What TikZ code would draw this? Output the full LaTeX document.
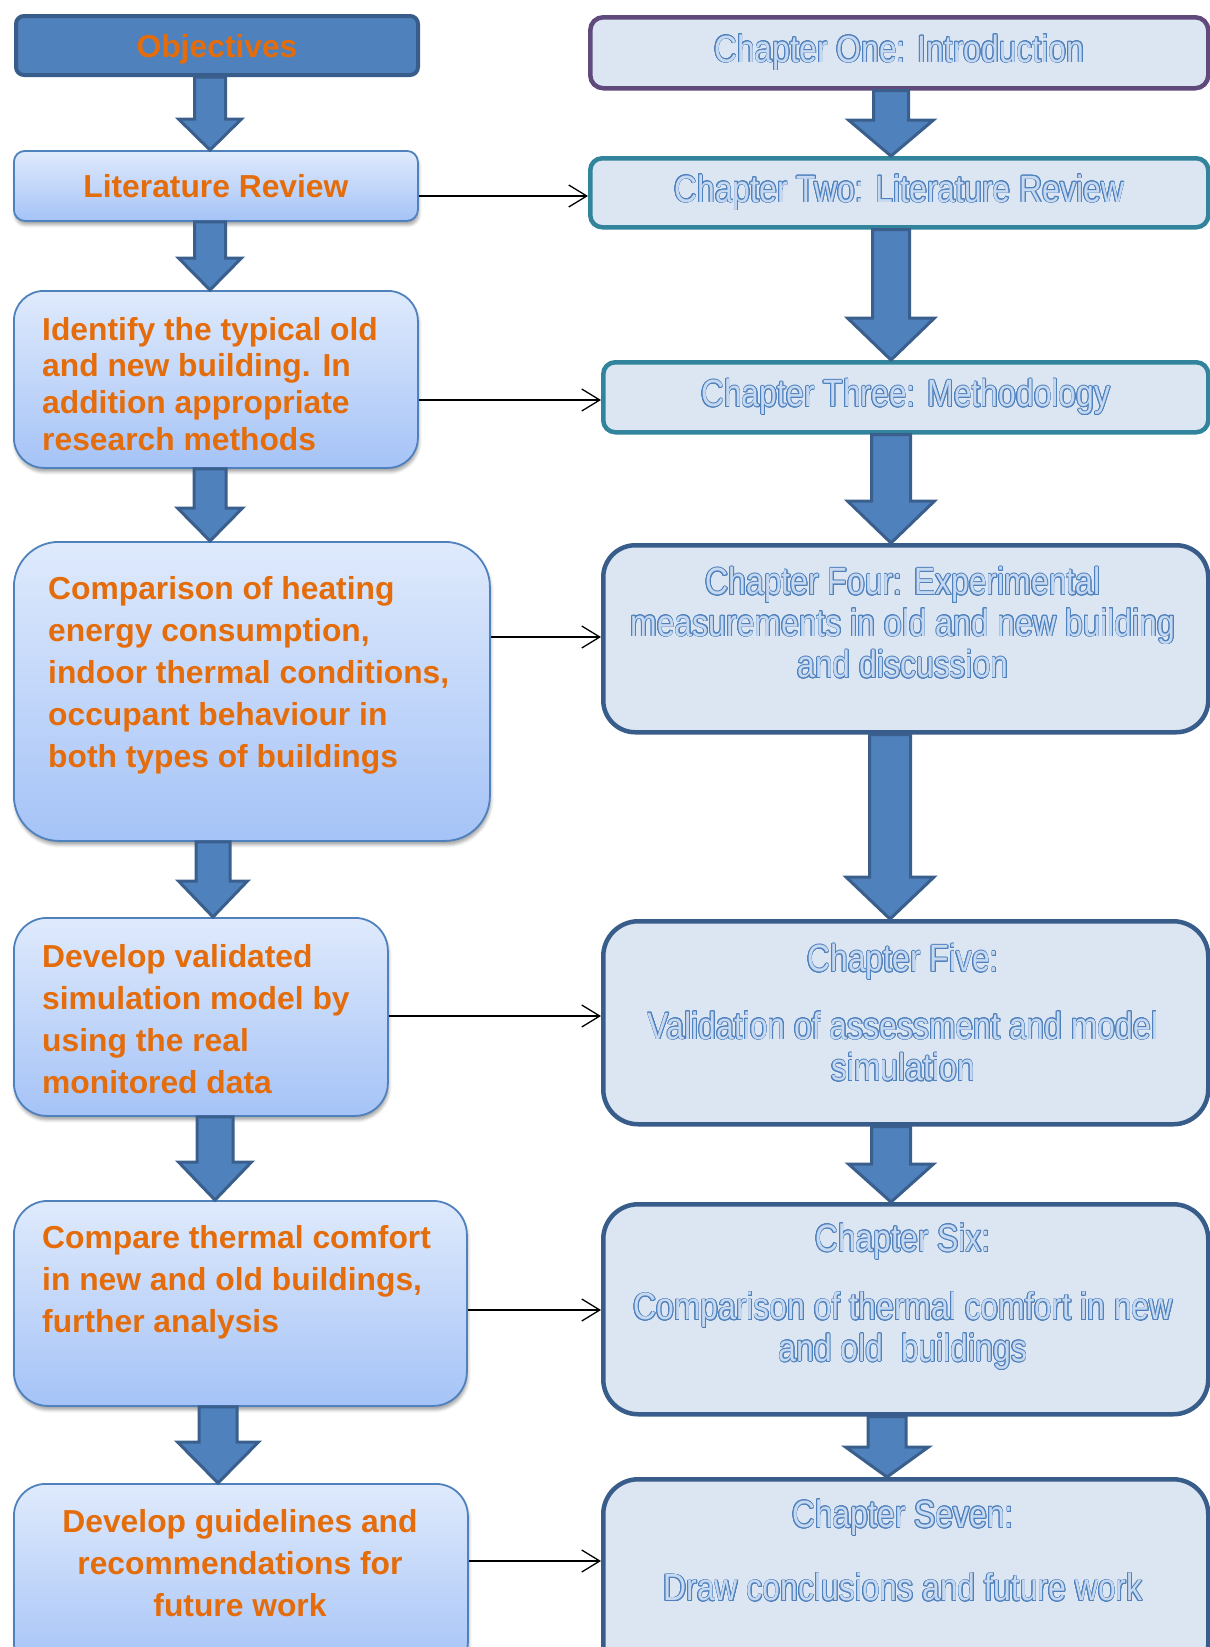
\documentclass[tikz,border=0pt]{standalone}
\usepackage{fontspec}
\setmainfont{Liberation Sans}
\newfontfamily\chapfont[FakeStretch=0.84]{Liberation Sans}
\usepackage[copies]{contour}
\contourlength{0.75pt}
\usetikzlibrary{arrows.meta,shadows.blur}

\definecolor{objfill}{HTML}{4F81BD}
\definecolor{objedge}{HTML}{385D8A}
\definecolor{lboxedge}{HTML}{4F81BD}
\definecolor{lboxtop}{HTML}{DFEAFC}
\definecolor{lboxbot}{HTML}{A5C3F7}
\definecolor{lorange}{HTML}{E46C0A}
\definecolor{rboxfill}{HTML}{DCE6F2}
\definecolor{edgepurple}{HTML}{5F4A7B}
\definecolor{edgeteal}{HTML}{31849B}
\definecolor{edgeblue}{HTML}{385D8A}
\definecolor{rtxtfill}{HTML}{C6D9F1}
\definecolor{rtxtedge}{HTML}{4F81BD}
\definecolor{blkfill}{HTML}{4F81BD}
\definecolor{blkedge}{HTML}{3A5F8C}

\newcommand{\ctr}[1]{\contour{rtxtedge}{#1}}
% from, to, x, half shaft, half head, head length
\newcommand{\blockdown}[6]{%
  \path (#1.south -| #3,0) coordinate (#1-o) (#2.north -| #3,0) coordinate (#2-i);
  \draw[blkarr] ([xshift=-#4pt]#1-o) -- ([xshift=-#4pt,yshift=#6pt]#2-i)
    -- ([xshift=-#5pt,yshift=#6pt]#2-i) -- (#2-i) -- ([xshift=#5pt,yshift=#6pt]#2-i)
    -- ([xshift=#4pt,yshift=#6pt]#2-i) -- ([xshift=#4pt]#1-o) -- cycle;}

\begin{document}
\begin{tikzpicture}[x=1pt,y=-1pt,>={Straight Barb[length=18pt,width=22pt]},
  lbox/.style={draw=lboxedge,line width=1.8pt,top color=lboxtop,bottom color=lboxbot,
    blur shadow={shadow xshift=1pt,shadow yshift=-4pt,shadow blur radius=3pt,shadow opacity=35},
    anchor=north west,inner sep=0pt},
  rbox/.style={draw=#1,line width=4.5pt,fill=rboxfill,anchor=north west,inner sep=0pt},
  ltxt/.style={text=lorange,font=\fontsize{31.8}{42}\selectfont\bfseries,align=left,inner sep=0pt},
  rtxt/.style={text=rtxtfill,font=\chapfont\fontsize{38}{41.5}\selectfont,align=center,inner sep=0pt},
  blkarr/.style={fill=blkfill,draw=blkedge,line width=3pt,line join=miter},
  linkarr/.style={->,line width=1.3pt}]
\useasboundingbox (0,0) rectangle (1210,1647);

\node (obj) [anchor=north west,draw=objedge,fill=objfill,line width=4pt,rounded corners=8pt,
  minimum width=402pt,minimum height=59pt,ltxt,text depth=0pt] at (14,14) {Objectives};
\node (lit) [lbox,ltxt,minimum width=404pt,minimum height=70pt,rounded corners=11pt] at (13,150) {Literature Review};
\node (idf) [lbox,minimum width=404pt,minimum height=177pt,rounded corners=30pt] at (13,290) {};
\node (cmp) [lbox,minimum width=476pt,minimum height=299pt,rounded corners=45pt] at (13,541) {};
\node (dev) [lbox,minimum width=374pt,minimum height=198pt,rounded corners=33pt] at (13,917) {};
\node (cpt) [lbox,minimum width=453pt,minimum height=205pt,rounded corners=34pt] at (13,1200) {};
\node (gdl) [lbox,minimum width=454pt,minimum height=190pt,rounded corners=32pt] at (13,1483) {};

\node (idf-t) [ltxt,anchor=west,font=\fontsize{31.8}{36.8}\selectfont\bfseries] at (42,384)
  {Identify the typical old\\and new building. In\\addition appropriate\\research methods};
\node (cmp-t) [ltxt,anchor=west] at (48,675)
  {Comparison of heating\\energy consumption,\\indoor thermal conditions,\\occupant behaviour in\\both types of buildings};
\node (dev-t) [ltxt,anchor=west] at (42,1019)
  {Develop validated\\simulation model by\\using the real\\monitored data};
\node (cpt-t) [ltxt,anchor=west] at (42,1282)
  {Compare thermal comfort\\in new and old buildings,\\further analysis};
\node (gdl-t) [ltxt,align=center] at (240,1563)
  {Develop guidelines and\\recommendations for\\future work};

\node (ch1) [rbox=edgepurple,rtxt,minimum width=618pt,minimum height=71pt,rounded corners=13pt] at (588,15)
  {\ctr{Chapter One: Introduction}};
\node (ch2) [rbox=edgeteal,rtxt,minimum width=618pt,minimum height=69pt,rounded corners=12pt] at (588,156)
  {\ctr{Chapter Two: Literature Review}};
\node (ch3) [rbox=edgeteal,rtxt,minimum width=605pt,minimum height=70pt,rounded corners=12pt] at (601,360)
  {\ctr{Chapter Three: Methodology}};
\node (ch4) [rbox=edgeblue,minimum width=605pt,minimum height=187pt,rounded corners=32pt] at (601,543) {};
\node (ch5) [rbox=edgeblue,minimum width=605pt,minimum height=203pt,rounded corners=35pt] at (601,919) {};
\node (ch6) [rbox=edgeblue,minimum width=605pt,minimum height=210pt,rounded corners=35pt] at (601,1202) {};
\node (ch7) [rbox=edgeblue,minimum width=605pt,minimum height=200pt,rounded corners=35pt] at (601,1477) {};

\node (ch4-t) [rtxt] at (903,623)
  {\ctr{Chapter Four: Experimental}\\\ctr{measurements in old and new building}\\\ctr{and discussion}};
\node (ch5-t) [rtxt] at (903,1013)
  {\ctr{Chapter Five:}\\[26pt]\ctr{Validation of assessment and model}\\\ctr{simulation}};
\node (ch6-t) [rtxt] at (903,1297)
  {\ctr{Chapter Six:}\\[27pt]\ctr{Comparison of thermal comfort in new}\\\ctr{and old\ \ buildings}};
\node (ch7-t) [rtxt] at (903,1551)
  {\ctr{Chapter Seven:}\\[32pt]\ctr{Draw conclusions and future work}};

\blockdown{obj}{lit}{210}{15.5}{31.5}{31}
\blockdown{lit}{idf}{210}{15.5}{31.5}{32}
\blockdown{idf}{cmp}{210}{16}{32.5}{33}
\blockdown{cmp}{dev}{213}{17}{34.5}{36}
\blockdown{dev}{cpt}{215}{18}{36.5}{38}
\blockdown{cpt}{gdl}{218}{19}{40.5}{41}
\blockdown{ch1}{ch2}{891}{17.5}{42.5}{36}
\blockdown{ch2}{ch3}{891}{18.5}{43.5}{42}
\blockdown{ch3}{ch4}{891}{19.5}{43.5}{42}
\blockdown{ch4}{ch5}{890}{20.5}{44}{42}
\blockdown{ch5}{ch6}{891}{19.5}{42.5}{38}
\blockdown{ch6}{ch7}{887}{19}{41.5}{30}

\draw[linkarr] (lit.east |- 0,196) -- (ch2.west |- 0,196);
\draw[linkarr] (idf.east |- 0,400) -- (ch3.west |- 0,400);
\draw[linkarr] (cmp.east |- 0,637) -- (ch4.west |- 0,637);
\draw[linkarr] (dev.east |- 0,1016) -- (ch5.west |- 0,1016);
\draw[linkarr] (cpt.east |- 0,1310) -- (ch6.west |- 0,1310);
\draw[linkarr] (gdl.east |- 0,1561) -- (ch7.west |- 0,1561);

\end{tikzpicture}
\end{document}
